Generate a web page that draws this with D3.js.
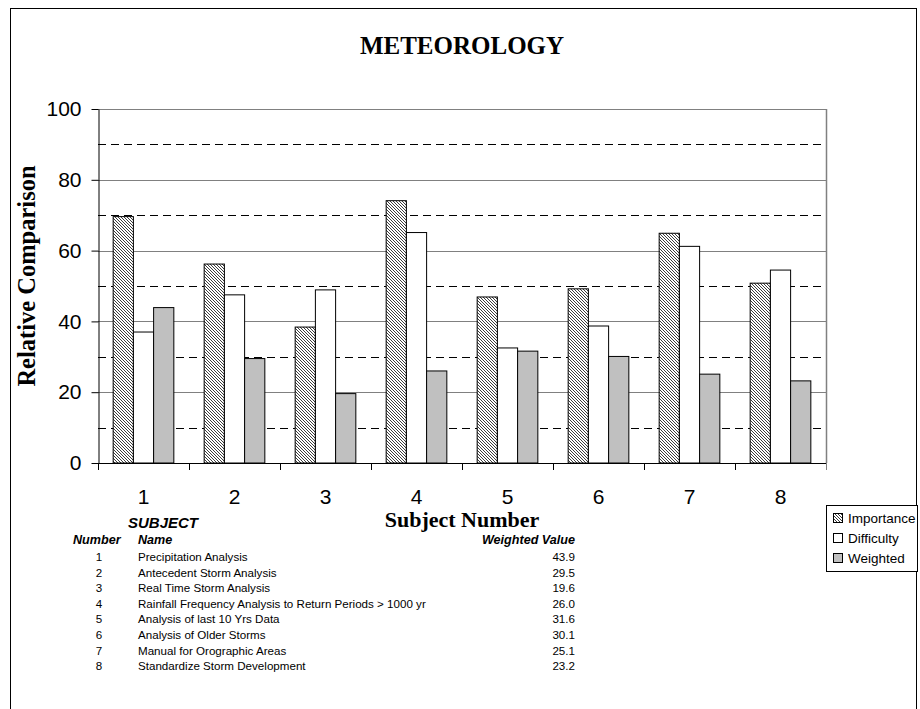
<!DOCTYPE html>
<html><head><meta charset="utf-8">
<script src="https://cdn.jsdelivr.net/npm/d3@7"></script>
<style>html,body{margin:0;padding:0;background:#fff;}svg{display:block;}</style>
</head><body>
<svg id="c" width="920" height="709"></svg>
<script>
const categories = ["1","2","3","4","5","6","7","8"];
const seriesNames = ["Importance","Difficulty","Weighted"];
const importance = [69.6, 56.2, 38.4, 74.1, 46.9, 49.2, 64.9, 50.8];
const difficulty = [37.0, 47.5, 48.9, 65.1, 32.5, 38.7, 61.2, 54.5];
const weighted   = [43.9, 29.5, 19.6, 26.0, 31.6, 30.1, 25.1, 23.2];
const yTicks = [0, 20, 40, 60, 80, 100];
const yDashed = [10, 30, 50, 70, 90];
const subjectNames = ["Precipitation Analysis","Antecedent Storm Analysis","Real Time Storm Analysis",
  "Rainfall Frequency Analysis to Return Periods > 1000 yr","Analysis of last 10 Yrs Data",
  "Analysis of Older Storms","Manual for Orographic Areas","Standardize Storm Development"];
const weightedLabels = ["43.9","29.5","19.6","26.0","31.6","30.1","25.1","23.2"];

const svg = d3.select("#c");
const defs = svg.append("defs");
const pat = defs.append("pattern").attr("id","hatch").attr("patternUnits","userSpaceOnUse")
  .attr("width",3).attr("height",3);
pat.append("rect").attr("width",3).attr("height",3).attr("fill","#fff");
pat.append("path").attr("d","M0,0 L3,3 M-1,2 L1,4 M2,-1 L4,1").attr("stroke","#333").attr("stroke-width",0.95);

const fills = {Importance:"url(#hatch)", Difficulty:"#ffffff", Weighted:"#c0c0c0"};
const seriesData = {Importance: importance, Difficulty: difficulty, Weighted: weighted};

// outer border
svg.append("rect").attr("x",10.5).attr("y",8.5).attr("width",906).attr("height",720)
  .attr("fill","none").attr("stroke","#000").attr("stroke-width",1);

const L = 98, R = 826, T = 109, B = 463;
const x = d3.scaleBand().domain(categories).range([L, R]).paddingInner(0).paddingOuter(0);
const xs = d3.scaleBand().domain(seriesNames).range([0, x.bandwidth()]).paddingInner(0).paddingOuter(0.75);
const y = d3.scaleLinear().domain([0,100]).range([B, T]);

// gridlines
svg.append("g").selectAll("line").data(yTicks.filter(d=>d>0)).join("line")
  .attr("x1",L).attr("x2",R).attr("y1",d=>Math.round(y(d))+0.5).attr("y2",d=>Math.round(y(d))+0.5)
  .attr("stroke","#808080").attr("stroke-width",1);
svg.append("g").selectAll("line").data(yDashed).join("line")
  .attr("x1",L).attr("x2",R).attr("y1",d=>Math.round(y(d))+0.5).attr("y2",d=>Math.round(y(d))+0.5)
  .attr("stroke","#000").attr("stroke-width",1).attr("stroke-dasharray","8,5");
// right border
svg.append("line").attr("x1",R+0.5).attr("x2",R+0.5).attr("y1",T).attr("y2",B)
  .attr("stroke","#808080").attr("stroke-width",1.5);

// bars
const g = svg.append("g");
categories.forEach((c,i)=>{
  seriesNames.forEach(s=>{
    const v = seriesData[s][i];
    g.append("rect")
      .attr("x", x(c)+xs(s)).attr("width", xs.bandwidth())
      .attr("y", y(v)).attr("height", y(0)-y(v))
      .attr("fill", fills[s]).attr("stroke","#000").attr("stroke-width",1);
  });
});

// axes
const yAxis = d3.axisLeft(y).tickValues(yTicks).tickSize(7).tickPadding(10).tickSizeOuter(0);
const ya = svg.append("g").attr("transform",`translate(${L+0.5},0)`).call(yAxis);
ya.selectAll("text").attr("font-family","Liberation Sans, Arial, sans-serif").attr("font-size",21).attr("fill","#000");
ya.selectAll("line,path").attr("stroke","#000");

const xAxis = d3.axisBottom(x).tickSize(0).tickPadding(0);
const xa = svg.append("g").attr("transform",`translate(0,${B+0.5})`).call(xAxis);
xa.select("path").remove();
xa.selectAll("text").attr("font-family","Liberation Sans, Arial, sans-serif").attr("font-size",21)
  .attr("fill","#000").attr("dy",null).attr("y",40);
svg.append("line").attr("x1",L).attr("x2",R+1).attr("y1",B+0.5).attr("y2",B+0.5).attr("stroke","#000");
// boundary ticks
const bounds = categories.map(c=>x(c)).concat([R]);
svg.append("g").selectAll("line").data(bounds).join("line")
  .attr("x1",d=>Math.round(d)+0.5).attr("x2",d=>Math.round(d)+0.5).attr("y1",B).attr("y2",B+7)
  .attr("stroke",(d,i)=>i===bounds.length-1?"#808080":"#000");

// titles
svg.append("text").attr("x",462).attr("y",54).attr("text-anchor","middle")
  .attr("font-family","Liberation Serif, Times New Roman, serif").attr("font-weight","bold").attr("font-size",25)
  .text("METEOROLOGY");
svg.append("text").attr("transform","translate(35,276) rotate(-90)").attr("text-anchor","middle")
  .attr("font-family","Liberation Serif, Times New Roman, serif").attr("font-weight","bold").attr("font-size",24.5)
  .text("Relative Comparison");
svg.append("text").attr("x",462).attr("y",527).attr("text-anchor","middle")
  .attr("font-family","Liberation Serif, Times New Roman, serif").attr("font-weight","bold").attr("font-size",22)
  .text("Subject Number");

// legend
const lg = svg.append("g");
lg.append("rect").attr("x",826.5).attr("y",505.5).attr("width",91).attr("height",66)
  .attr("fill","#fff").attr("stroke","#000");
seriesNames.forEach((s,i)=>{
  const cy = 518 + i*20;
  lg.append("rect").attr("x",833.5).attr("y",cy-4.5).attr("width",9).attr("height",9)
    .attr("fill",fills[s]).attr("stroke","#000");
  lg.append("text").attr("x",848).attr("y",cy+5).attr("font-family","Liberation Sans, Arial, sans-serif")
    .attr("font-size",13.5).text(s);
});

// table
const tf = "Liberation Sans, Arial, sans-serif";
svg.append("text").attr("x",128).attr("y",528).attr("font-family",tf).attr("font-weight","bold")
  .attr("font-style","italic").attr("font-size",15).text("SUBJECT");
svg.append("text").attr("x",73).attr("y",544).attr("font-family",tf).attr("font-weight","bold")
  .attr("font-style","italic").attr("font-size",12.6).text("Number");
svg.append("text").attr("x",138).attr("y",544).attr("font-family",tf).attr("font-weight","bold")
  .attr("font-style","italic").attr("font-size",12.6).text("Name");
svg.append("text").attr("x",575).attr("y",544).attr("text-anchor","end").attr("font-family",tf).attr("font-weight","bold")
  .attr("font-style","italic").attr("font-size",12.6).text("Weighted Value");
categories.forEach((c,i)=>{
  const by = 561 + i*15.6;
  svg.append("text").attr("x",99).attr("y",by).attr("text-anchor","middle").attr("font-family",tf).attr("font-size",11.6).text(c);
  svg.append("text").attr("x",138).attr("y",by).attr("font-family",tf).attr("font-size",11.6).text(subjectNames[i]);
  svg.append("text").attr("x",575).attr("y",by).attr("text-anchor","end").attr("font-family",tf).attr("font-size",11.6).text(weightedLabels[i]);
});
</script>
</body></html>
